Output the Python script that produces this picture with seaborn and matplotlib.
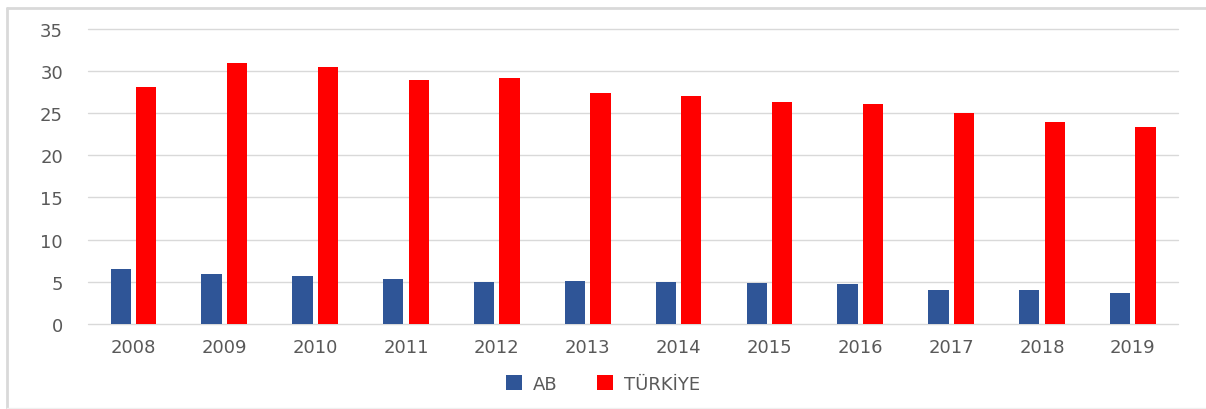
import matplotlib
matplotlib.use("Agg")
import matplotlib.pyplot as plt
import seaborn as sns
import pandas as pd
from matplotlib.lines import Line2D

years = ["2008", "2009", "2010", "2011", "2012", "2013", "2014", "2015", "2016", "2017", "2018", "2019"]
ab = [6.5, 5.9, 5.7, 5.4, 5.0, 5.1, 5.0, 4.9, 4.7, 4.0, 4.0, 3.7]
turkiye = [28.1, 30.9, 30.4, 28.9, 29.1, 27.4, 27.0, 26.3, 26.1, 25.0, 23.9, 23.3]
series_names = ["AB", "TÜRKİYE"]
colors = ["#2F5597", "#FF0000"]

df = pd.DataFrame({
    "Yıl": years * 2,
    "Değer": ab + turkiye,
    "Seri": [series_names[0]] * len(years) + [series_names[1]] * len(years),
})

sns.set_theme(style="white")
plt.rcParams["font.family"] = ["DejaVu Sans"]

fig = plt.figure(figsize=(12.06, 4.10), dpi=100)
ax = fig.add_axes([0.073, 0.207, 0.904, 0.721])

sns.barplot(data=df, x="Yıl", y="Değer", hue="Seri", palette=colors,
            width=0.56, gap=0.2, ax=ax, saturation=1, linewidth=0)

ax.set_ylim(0, 35)
ax.set_yticks(range(0, 36, 5))
ax.set_xlim(-0.5, 11.5)
ax.yaxis.grid(True, color="#D9D9D9", linewidth=1)
for gl in ax.get_ygridlines():
    gl.set_clip_on(False)
ax.set_axisbelow(True)
for s in ax.spines.values():
    s.set_visible(False)
ax.set_xlabel("")
ax.set_ylabel("")
ax.tick_params(axis="both", length=0, labelsize=13, labelcolor="#595959")
ax.tick_params(axis="x", pad=10)
ax.tick_params(axis="y", pad=18)

handles, labels = ax.get_legend_handles_labels()
ax.legend(handles, labels, loc="center", bbox_to_anchor=(0.5, 0.062),
          bbox_transform=fig.transFigure, ncol=2, frameon=False,
          fontsize=13, labelcolor="#595959", handlelength=0.9, handleheight=0.9,
          columnspacing=2.2, handletextpad=0.6)

# outer chart frame (left, top, faint bottom)
fig.add_artist(Line2D([0.0058, 0.0058], [0.003, 0.979], transform=fig.transFigure,
                      color="#D9D9D9", linewidth=2))
fig.add_artist(Line2D([0.0058, 1.0], [0.979, 0.979], transform=fig.transFigure,
                      color="#D9D9D9", linewidth=2))
fig.add_artist(Line2D([0.0058, 1.0], [0.003, 0.003], transform=fig.transFigure,
                      color="#F0F0F0", linewidth=1))

fig.savefig("out.png", dpi=100)
